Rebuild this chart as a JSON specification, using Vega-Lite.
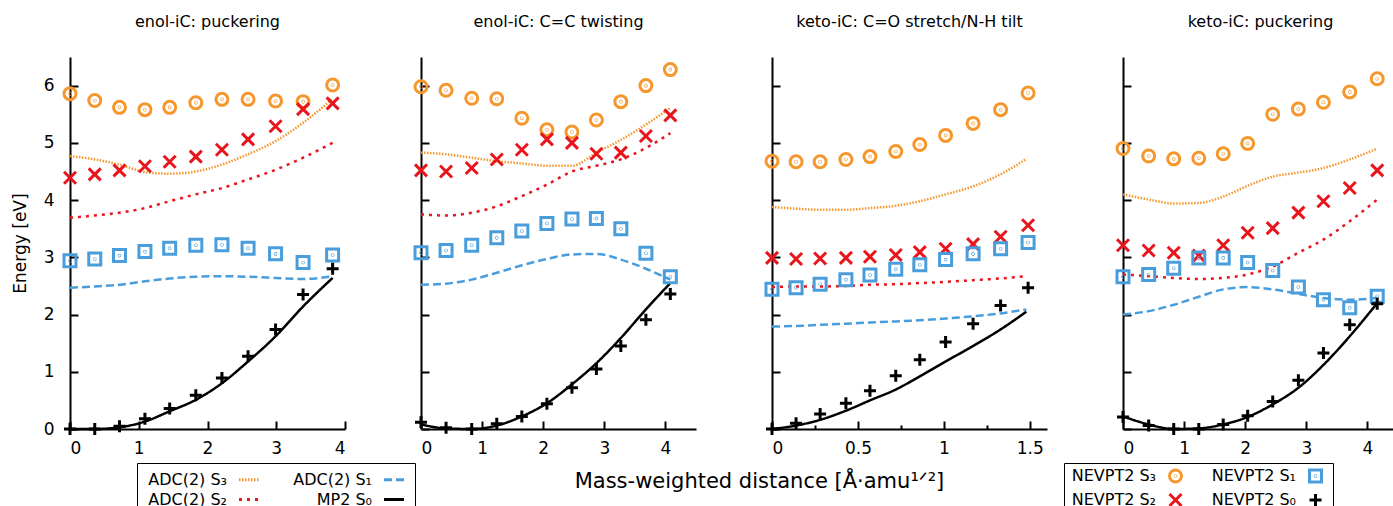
{
"$schema": "https://vega.github.io/schema/vega-lite/v6.json",
"padding": {"left": 11, "top": 14, "right": 5, "bottom": 5},
"spacing": 76,
"bounds": "flush",
"config": {
  "font": "DejaVu Sans",
  "view": {"stroke": null},
  "axis": {"domainColor": "black", "domainWidth": 2, "tickColor": "black", "tickWidth": 2, "labelColor": "black", "labelFontSize": 17, "grid": false, "titleFontSize": 17, "titleFontWeight": "normal", "titleColor": "black", "labelFont": "DejaVu Sans", "titleFont": "DejaVu Sans"},
  "title": {"fontSize": 16, "fontWeight": "normal", "color": "black", "offset": 27, "font": "DejaVu Sans"},
  "legend": {"labelFontSize": 16, "labelColor": "black", "labelFont": "DejaVu Sans"}
},
"datasets": {
"lines": [
{"p":1,"d":0,"e":4.77,"s":"ADC(2) S₃"},{"p":1,"d":0.36,"e":4.71,"s":"ADC(2) S₃"},{"p":1,"d":0.72,"e":4.62,"s":"ADC(2) S₃"},{"p":1,"d":1.09,"e":4.49,"s":"ADC(2) S₃"},{"p":1,"d":1.45,"e":4.46,"s":"ADC(2) S₃"},{"p":1,"d":1.83,"e":4.5,"s":"ADC(2) S₃"},{"p":1,"d":2.21,"e":4.62,"s":"ADC(2) S₃"},{"p":1,"d":2.59,"e":4.8,"s":"ADC(2) S₃"},{"p":1,"d":2.99,"e":5.03,"s":"ADC(2) S₃"},{"p":1,"d":3.39,"e":5.35,"s":"ADC(2) S₃"},{"p":1,"d":3.82,"e":5.77,"s":"ADC(2) S₃"},
{"p":1,"d":0,"e":3.69,"s":"ADC(2) S₂"},{"p":1,"d":0.36,"e":3.73,"s":"ADC(2) S₂"},{"p":1,"d":0.72,"e":3.78,"s":"ADC(2) S₂"},{"p":1,"d":1.09,"e":3.86,"s":"ADC(2) S₂"},{"p":1,"d":1.45,"e":3.98,"s":"ADC(2) S₂"},{"p":1,"d":1.83,"e":4.1,"s":"ADC(2) S₂"},{"p":1,"d":2.21,"e":4.21,"s":"ADC(2) S₂"},{"p":1,"d":2.59,"e":4.36,"s":"ADC(2) S₂"},{"p":1,"d":2.99,"e":4.53,"s":"ADC(2) S₂"},{"p":1,"d":3.39,"e":4.74,"s":"ADC(2) S₂"},{"p":1,"d":3.82,"e":5.0,"s":"ADC(2) S₂"},
{"p":1,"d":0,"e":2.47,"s":"ADC(2) S₁"},{"p":1,"d":0.36,"e":2.49,"s":"ADC(2) S₁"},{"p":1,"d":0.72,"e":2.52,"s":"ADC(2) S₁"},{"p":1,"d":1.09,"e":2.58,"s":"ADC(2) S₁"},{"p":1,"d":1.45,"e":2.63,"s":"ADC(2) S₁"},{"p":1,"d":1.83,"e":2.66,"s":"ADC(2) S₁"},{"p":1,"d":2.21,"e":2.67,"s":"ADC(2) S₁"},{"p":1,"d":2.59,"e":2.66,"s":"ADC(2) S₁"},{"p":1,"d":2.99,"e":2.64,"s":"ADC(2) S₁"},{"p":1,"d":3.39,"e":2.62,"s":"ADC(2) S₁"},{"p":1,"d":3.82,"e":2.67,"s":"ADC(2) S₁"},
{"p":1,"d":0,"e":0,"s":"MP2 S₀"},{"p":1,"d":0.36,"e":0,"s":"MP2 S₀"},{"p":1,"d":0.72,"e":0.03,"s":"MP2 S₀"},{"p":1,"d":1.09,"e":0.13,"s":"MP2 S₀"},{"p":1,"d":1.45,"e":0.31,"s":"MP2 S₀"},{"p":1,"d":1.83,"e":0.51,"s":"MP2 S₀"},{"p":1,"d":2.21,"e":0.8,"s":"MP2 S₀"},{"p":1,"d":2.59,"e":1.18,"s":"MP2 S₀"},{"p":1,"d":2.99,"e":1.62,"s":"MP2 S₀"},{"p":1,"d":3.39,"e":2.14,"s":"MP2 S₀"},{"p":1,"d":3.82,"e":2.64,"s":"MP2 S₀"},
{"p":2,"d":0,"e":4.83,"s":"ADC(2) S₃"},{"p":2,"d":0.41,"e":4.8,"s":"ADC(2) S₃"},{"p":2,"d":0.83,"e":4.74,"s":"ADC(2) S₃"},{"p":2,"d":1.24,"e":4.68,"s":"ADC(2) S₃"},{"p":2,"d":1.65,"e":4.64,"s":"ADC(2) S₃"},{"p":2,"d":2.06,"e":4.6,"s":"ADC(2) S₃"},{"p":2,"d":2.47,"e":4.6,"s":"ADC(2) S₃"},{"p":2,"d":2.87,"e":4.83,"s":"ADC(2) S₃"},{"p":2,"d":3.27,"e":5.05,"s":"ADC(2) S₃"},{"p":2,"d":3.68,"e":5.32,"s":"ADC(2) S₃"},{"p":2,"d":4.08,"e":5.61,"s":"ADC(2) S₃"},
{"p":2,"d":0,"e":3.75,"s":"ADC(2) S₂"},{"p":2,"d":0.41,"e":3.73,"s":"ADC(2) S₂"},{"p":2,"d":0.83,"e":3.78,"s":"ADC(2) S₂"},{"p":2,"d":1.24,"e":3.89,"s":"ADC(2) S₂"},{"p":2,"d":1.65,"e":4.07,"s":"ADC(2) S₂"},{"p":2,"d":2.06,"e":4.27,"s":"ADC(2) S₂"},{"p":2,"d":2.47,"e":4.5,"s":"ADC(2) S₂"},{"p":2,"d":2.87,"e":4.6,"s":"ADC(2) S₂"},{"p":2,"d":3.27,"e":4.71,"s":"ADC(2) S₂"},{"p":2,"d":3.68,"e":4.91,"s":"ADC(2) S₂"},{"p":2,"d":4.08,"e":5.17,"s":"ADC(2) S₂"},
{"p":2,"d":0,"e":2.52,"s":"ADC(2) S₁"},{"p":2,"d":0.41,"e":2.54,"s":"ADC(2) S₁"},{"p":2,"d":0.83,"e":2.61,"s":"ADC(2) S₁"},{"p":2,"d":1.24,"e":2.73,"s":"ADC(2) S₁"},{"p":2,"d":1.65,"e":2.86,"s":"ADC(2) S₁"},{"p":2,"d":2.06,"e":2.97,"s":"ADC(2) S₁"},{"p":2,"d":2.47,"e":3.05,"s":"ADC(2) S₁"},{"p":2,"d":2.87,"e":3.06,"s":"ADC(2) S₁"},{"p":2,"d":3.27,"e":2.96,"s":"ADC(2) S₁"},{"p":2,"d":3.68,"e":2.8,"s":"ADC(2) S₁"},{"p":2,"d":4.08,"e":2.61,"s":"ADC(2) S₁"},
{"p":2,"d":0,"e":0.08,"s":"MP2 S₀"},{"p":2,"d":0.41,"e":0.01,"s":"MP2 S₀"},{"p":2,"d":0.83,"e":0,"s":"MP2 S₀"},{"p":2,"d":1.24,"e":0.06,"s":"MP2 S₀"},{"p":2,"d":1.65,"e":0.22,"s":"MP2 S₀"},{"p":2,"d":2.06,"e":0.45,"s":"MP2 S₀"},{"p":2,"d":2.47,"e":0.78,"s":"MP2 S₀"},{"p":2,"d":2.87,"e":1.15,"s":"MP2 S₀"},{"p":2,"d":3.27,"e":1.59,"s":"MP2 S₀"},{"p":2,"d":3.68,"e":2.09,"s":"MP2 S₀"},{"p":2,"d":4.08,"e":2.55,"s":"MP2 S₀"},
{"p":3,"d":0,"e":3.88,"s":"ADC(2) S₃"},{"p":3,"d":0.14,"e":3.85,"s":"ADC(2) S₃"},{"p":3,"d":0.28,"e":3.83,"s":"ADC(2) S₃"},{"p":3,"d":0.43,"e":3.83,"s":"ADC(2) S₃"},{"p":3,"d":0.57,"e":3.86,"s":"ADC(2) S₃"},{"p":3,"d":0.72,"e":3.9,"s":"ADC(2) S₃"},{"p":3,"d":0.86,"e":3.98,"s":"ADC(2) S₃"},{"p":3,"d":1.01,"e":4.1,"s":"ADC(2) S₃"},{"p":3,"d":1.17,"e":4.24,"s":"ADC(2) S₃"},{"p":3,"d":1.33,"e":4.45,"s":"ADC(2) S₃"},{"p":3,"d":1.48,"e":4.72,"s":"ADC(2) S₃"},
{"p":3,"d":0,"e":2.48,"s":"ADC(2) S₂"},{"p":3,"d":0.14,"e":2.49,"s":"ADC(2) S₂"},{"p":3,"d":0.28,"e":2.49,"s":"ADC(2) S₂"},{"p":3,"d":0.43,"e":2.5,"s":"ADC(2) S₂"},{"p":3,"d":0.57,"e":2.52,"s":"ADC(2) S₂"},{"p":3,"d":0.72,"e":2.53,"s":"ADC(2) S₂"},{"p":3,"d":0.86,"e":2.55,"s":"ADC(2) S₂"},{"p":3,"d":1.01,"e":2.57,"s":"ADC(2) S₂"},{"p":3,"d":1.17,"e":2.6,"s":"ADC(2) S₂"},{"p":3,"d":1.33,"e":2.63,"s":"ADC(2) S₂"},{"p":3,"d":1.48,"e":2.67,"s":"ADC(2) S₂"},
{"p":3,"d":0,"e":1.79,"s":"ADC(2) S₁"},{"p":3,"d":0.14,"e":1.8,"s":"ADC(2) S₁"},{"p":3,"d":0.28,"e":1.82,"s":"ADC(2) S₁"},{"p":3,"d":0.43,"e":1.84,"s":"ADC(2) S₁"},{"p":3,"d":0.57,"e":1.86,"s":"ADC(2) S₁"},{"p":3,"d":0.72,"e":1.88,"s":"ADC(2) S₁"},{"p":3,"d":0.86,"e":1.9,"s":"ADC(2) S₁"},{"p":3,"d":1.01,"e":1.93,"s":"ADC(2) S₁"},{"p":3,"d":1.17,"e":1.97,"s":"ADC(2) S₁"},{"p":3,"d":1.33,"e":2.02,"s":"ADC(2) S₁"},{"p":3,"d":1.48,"e":2.09,"s":"ADC(2) S₁"},
{"p":3,"d":0,"e":0,"s":"MP2 S₀"},{"p":3,"d":0.14,"e":0.06,"s":"MP2 S₀"},{"p":3,"d":0.28,"e":0.16,"s":"MP2 S₀"},{"p":3,"d":0.43,"e":0.32,"s":"MP2 S₀"},{"p":3,"d":0.57,"e":0.5,"s":"MP2 S₀"},{"p":3,"d":0.72,"e":0.69,"s":"MP2 S₀"},{"p":3,"d":0.86,"e":0.92,"s":"MP2 S₀"},{"p":3,"d":1.01,"e":1.18,"s":"MP2 S₀"},{"p":3,"d":1.17,"e":1.45,"s":"MP2 S₀"},{"p":3,"d":1.33,"e":1.74,"s":"MP2 S₀"},{"p":3,"d":1.48,"e":2.05,"s":"MP2 S₀"},
{"p":4,"d":0,"e":4.1,"s":"ADC(2) S₃"},{"p":4,"d":0.42,"e":4.01,"s":"ADC(2) S₃"},{"p":4,"d":0.83,"e":3.94,"s":"ADC(2) S₃"},{"p":4,"d":1.24,"e":3.95,"s":"ADC(2) S₃"},{"p":4,"d":1.64,"e":4.06,"s":"ADC(2) S₃"},{"p":4,"d":2.04,"e":4.25,"s":"ADC(2) S₃"},{"p":4,"d":2.45,"e":4.41,"s":"ADC(2) S₃"},{"p":4,"d":2.87,"e":4.48,"s":"ADC(2) S₃"},{"p":4,"d":3.28,"e":4.56,"s":"ADC(2) S₃"},{"p":4,"d":3.71,"e":4.71,"s":"ADC(2) S₃"},{"p":4,"d":4.16,"e":4.9,"s":"ADC(2) S₃"},
{"p":4,"d":0,"e":2.7,"s":"ADC(2) S₂"},{"p":4,"d":0.42,"e":2.67,"s":"ADC(2) S₂"},{"p":4,"d":0.83,"e":2.64,"s":"ADC(2) S₂"},{"p":4,"d":1.24,"e":2.62,"s":"ADC(2) S₂"},{"p":4,"d":1.64,"e":2.64,"s":"ADC(2) S₂"},{"p":4,"d":2.04,"e":2.7,"s":"ADC(2) S₂"},{"p":4,"d":2.45,"e":2.84,"s":"ADC(2) S₂"},{"p":4,"d":2.87,"e":3.08,"s":"ADC(2) S₂"},{"p":4,"d":3.28,"e":3.31,"s":"ADC(2) S₂"},{"p":4,"d":3.71,"e":3.63,"s":"ADC(2) S₂"},{"p":4,"d":4.16,"e":4.01,"s":"ADC(2) S₂"},
{"p":4,"d":0,"e":2.0,"s":"ADC(2) S₁"},{"p":4,"d":0.42,"e":2.06,"s":"ADC(2) S₁"},{"p":4,"d":0.83,"e":2.17,"s":"ADC(2) S₁"},{"p":4,"d":1.24,"e":2.31,"s":"ADC(2) S₁"},{"p":4,"d":1.64,"e":2.44,"s":"ADC(2) S₁"},{"p":4,"d":2.04,"e":2.48,"s":"ADC(2) S₁"},{"p":4,"d":2.45,"e":2.44,"s":"ADC(2) S₁"},{"p":4,"d":2.87,"e":2.36,"s":"ADC(2) S₁"},{"p":4,"d":3.28,"e":2.29,"s":"ADC(2) S₁"},{"p":4,"d":3.71,"e":2.26,"s":"ADC(2) S₁"},{"p":4,"d":4.16,"e":2.29,"s":"ADC(2) S₁"},
{"p":4,"d":0,"e":0.22,"s":"MP2 S₀"},{"p":4,"d":0.42,"e":0.08,"s":"MP2 S₀"},{"p":4,"d":0.83,"e":0,"s":"MP2 S₀"},{"p":4,"d":1.24,"e":0.01,"s":"MP2 S₀"},{"p":4,"d":1.64,"e":0.08,"s":"MP2 S₀"},{"p":4,"d":2.04,"e":0.21,"s":"MP2 S₀"},{"p":4,"d":2.45,"e":0.43,"s":"MP2 S₀"},{"p":4,"d":2.87,"e":0.72,"s":"MP2 S₀"},{"p":4,"d":3.28,"e":1.12,"s":"MP2 S₀"},{"p":4,"d":3.71,"e":1.62,"s":"MP2 S₀"},{"p":4,"d":4.16,"e":2.2,"s":"MP2 S₀"}
],
"pts": [
{"p":1,"d":0,"e":5.86,"s":"NEVPT2 S₃"},{"p":1,"d":0.36,"e":5.74,"s":"NEVPT2 S₃"},{"p":1,"d":0.72,"e":5.62,"s":"NEVPT2 S₃"},{"p":1,"d":1.09,"e":5.58,"s":"NEVPT2 S₃"},{"p":1,"d":1.45,"e":5.62,"s":"NEVPT2 S₃"},{"p":1,"d":1.83,"e":5.7,"s":"NEVPT2 S₃"},{"p":1,"d":2.21,"e":5.76,"s":"NEVPT2 S₃"},{"p":1,"d":2.59,"e":5.76,"s":"NEVPT2 S₃"},{"p":1,"d":2.99,"e":5.73,"s":"NEVPT2 S₃"},{"p":1,"d":3.39,"e":5.72,"s":"NEVPT2 S₃"},{"p":1,"d":3.82,"e":6.01,"s":"NEVPT2 S₃"},
{"p":1,"d":0,"e":4.39,"s":"NEVPT2 S₂"},{"p":1,"d":0.36,"e":4.45,"s":"NEVPT2 S₂"},{"p":1,"d":0.72,"e":4.52,"s":"NEVPT2 S₂"},{"p":1,"d":1.09,"e":4.59,"s":"NEVPT2 S₂"},{"p":1,"d":1.45,"e":4.67,"s":"NEVPT2 S₂"},{"p":1,"d":1.83,"e":4.76,"s":"NEVPT2 S₂"},{"p":1,"d":2.21,"e":4.88,"s":"NEVPT2 S₂"},{"p":1,"d":2.59,"e":5.06,"s":"NEVPT2 S₂"},{"p":1,"d":2.99,"e":5.29,"s":"NEVPT2 S₂"},{"p":1,"d":3.39,"e":5.59,"s":"NEVPT2 S₂"},{"p":1,"d":3.82,"e":5.69,"s":"NEVPT2 S₂"},
{"p":1,"d":0,"e":2.94,"s":"NEVPT2 S₁"},{"p":1,"d":0.36,"e":2.97,"s":"NEVPT2 S₁"},{"p":1,"d":0.72,"e":3.03,"s":"NEVPT2 S₁"},{"p":1,"d":1.09,"e":3.1,"s":"NEVPT2 S₁"},{"p":1,"d":1.45,"e":3.16,"s":"NEVPT2 S₁"},{"p":1,"d":1.83,"e":3.21,"s":"NEVPT2 S₁"},{"p":1,"d":2.21,"e":3.22,"s":"NEVPT2 S₁"},{"p":1,"d":2.59,"e":3.16,"s":"NEVPT2 S₁"},{"p":1,"d":2.99,"e":3.06,"s":"NEVPT2 S₁"},{"p":1,"d":3.39,"e":2.91,"s":"NEVPT2 S₁"},{"p":1,"d":3.82,"e":3.04,"s":"NEVPT2 S₁"},
{"p":1,"d":0,"e":0,"s":"NEVPT2 S₀"},{"p":1,"d":0.36,"e":0,"s":"NEVPT2 S₀"},{"p":1,"d":0.72,"e":0.05,"s":"NEVPT2 S₀"},{"p":1,"d":1.09,"e":0.18,"s":"NEVPT2 S₀"},{"p":1,"d":1.45,"e":0.36,"s":"NEVPT2 S₀"},{"p":1,"d":1.83,"e":0.59,"s":"NEVPT2 S₀"},{"p":1,"d":2.21,"e":0.89,"s":"NEVPT2 S₀"},{"p":1,"d":2.59,"e":1.27,"s":"NEVPT2 S₀"},{"p":1,"d":2.99,"e":1.74,"s":"NEVPT2 S₀"},{"p":1,"d":3.39,"e":2.35,"s":"NEVPT2 S₀"},{"p":1,"d":3.82,"e":2.8,"s":"NEVPT2 S₀"},
{"p":2,"d":0,"e":5.98,"s":"NEVPT2 S₃"},{"p":2,"d":0.41,"e":5.92,"s":"NEVPT2 S₃"},{"p":2,"d":0.83,"e":5.78,"s":"NEVPT2 S₃"},{"p":2,"d":1.24,"e":5.77,"s":"NEVPT2 S₃"},{"p":2,"d":1.65,"e":5.43,"s":"NEVPT2 S₃"},{"p":2,"d":2.06,"e":5.23,"s":"NEVPT2 S₃"},{"p":2,"d":2.47,"e":5.19,"s":"NEVPT2 S₃"},{"p":2,"d":2.87,"e":5.4,"s":"NEVPT2 S₃"},{"p":2,"d":3.27,"e":5.72,"s":"NEVPT2 S₃"},{"p":2,"d":3.68,"e":6.0,"s":"NEVPT2 S₃"},{"p":2,"d":4.08,"e":6.28,"s":"NEVPT2 S₃"},
{"p":2,"d":0,"e":4.52,"s":"NEVPT2 S₂"},{"p":2,"d":0.41,"e":4.5,"s":"NEVPT2 S₂"},{"p":2,"d":0.83,"e":4.56,"s":"NEVPT2 S₂"},{"p":2,"d":1.24,"e":4.71,"s":"NEVPT2 S₂"},{"p":2,"d":1.65,"e":4.88,"s":"NEVPT2 S₂"},{"p":2,"d":2.06,"e":5.06,"s":"NEVPT2 S₂"},{"p":2,"d":2.47,"e":5.0,"s":"NEVPT2 S₂"},{"p":2,"d":2.87,"e":4.81,"s":"NEVPT2 S₂"},{"p":2,"d":3.27,"e":4.83,"s":"NEVPT2 S₂"},{"p":2,"d":3.68,"e":5.12,"s":"NEVPT2 S₂"},{"p":2,"d":4.08,"e":5.48,"s":"NEVPT2 S₂"},
{"p":2,"d":0,"e":3.08,"s":"NEVPT2 S₁"},{"p":2,"d":0.41,"e":3.12,"s":"NEVPT2 S₁"},{"p":2,"d":0.83,"e":3.21,"s":"NEVPT2 S₁"},{"p":2,"d":1.24,"e":3.34,"s":"NEVPT2 S₁"},{"p":2,"d":1.65,"e":3.46,"s":"NEVPT2 S₁"},{"p":2,"d":2.06,"e":3.59,"s":"NEVPT2 S₁"},{"p":2,"d":2.47,"e":3.67,"s":"NEVPT2 S₁"},{"p":2,"d":2.87,"e":3.68,"s":"NEVPT2 S₁"},{"p":2,"d":3.27,"e":3.5,"s":"NEVPT2 S₁"},{"p":2,"d":3.68,"e":3.07,"s":"NEVPT2 S₁"},{"p":2,"d":4.08,"e":2.66,"s":"NEVPT2 S₁"},
{"p":2,"d":0,"e":0.12,"s":"NEVPT2 S₀"},{"p":2,"d":0.41,"e":0.02,"s":"NEVPT2 S₀"},{"p":2,"d":0.83,"e":0,"s":"NEVPT2 S₀"},{"p":2,"d":1.24,"e":0.09,"s":"NEVPT2 S₀"},{"p":2,"d":1.65,"e":0.22,"s":"NEVPT2 S₀"},{"p":2,"d":2.06,"e":0.44,"s":"NEVPT2 S₀"},{"p":2,"d":2.47,"e":0.72,"s":"NEVPT2 S₀"},{"p":2,"d":2.87,"e":1.05,"s":"NEVPT2 S₀"},{"p":2,"d":3.27,"e":1.45,"s":"NEVPT2 S₀"},{"p":2,"d":3.68,"e":1.91,"s":"NEVPT2 S₀"},{"p":2,"d":4.08,"e":2.36,"s":"NEVPT2 S₀"},
{"p":3,"d":0,"e":4.68,"s":"NEVPT2 S₃"},{"p":3,"d":0.14,"e":4.67,"s":"NEVPT2 S₃"},{"p":3,"d":0.28,"e":4.67,"s":"NEVPT2 S₃"},{"p":3,"d":0.43,"e":4.71,"s":"NEVPT2 S₃"},{"p":3,"d":0.57,"e":4.76,"s":"NEVPT2 S₃"},{"p":3,"d":0.72,"e":4.85,"s":"NEVPT2 S₃"},{"p":3,"d":0.86,"e":4.97,"s":"NEVPT2 S₃"},{"p":3,"d":1.01,"e":5.13,"s":"NEVPT2 S₃"},{"p":3,"d":1.17,"e":5.34,"s":"NEVPT2 S₃"},{"p":3,"d":1.33,"e":5.58,"s":"NEVPT2 S₃"},{"p":3,"d":1.49,"e":5.87,"s":"NEVPT2 S₃"},
{"p":3,"d":0,"e":2.99,"s":"NEVPT2 S₂"},{"p":3,"d":0.14,"e":2.97,"s":"NEVPT2 S₂"},{"p":3,"d":0.28,"e":2.98,"s":"NEVPT2 S₂"},{"p":3,"d":0.43,"e":2.99,"s":"NEVPT2 S₂"},{"p":3,"d":0.57,"e":3.01,"s":"NEVPT2 S₂"},{"p":3,"d":0.72,"e":3.04,"s":"NEVPT2 S₂"},{"p":3,"d":0.86,"e":3.09,"s":"NEVPT2 S₂"},{"p":3,"d":1.01,"e":3.15,"s":"NEVPT2 S₂"},{"p":3,"d":1.17,"e":3.23,"s":"NEVPT2 S₂"},{"p":3,"d":1.33,"e":3.36,"s":"NEVPT2 S₂"},{"p":3,"d":1.49,"e":3.56,"s":"NEVPT2 S₂"},
{"p":3,"d":0,"e":2.44,"s":"NEVPT2 S₁"},{"p":3,"d":0.14,"e":2.47,"s":"NEVPT2 S₁"},{"p":3,"d":0.28,"e":2.53,"s":"NEVPT2 S₁"},{"p":3,"d":0.43,"e":2.61,"s":"NEVPT2 S₁"},{"p":3,"d":0.57,"e":2.69,"s":"NEVPT2 S₁"},{"p":3,"d":0.72,"e":2.79,"s":"NEVPT2 S₁"},{"p":3,"d":0.86,"e":2.87,"s":"NEVPT2 S₁"},{"p":3,"d":1.01,"e":2.96,"s":"NEVPT2 S₁"},{"p":3,"d":1.17,"e":3.06,"s":"NEVPT2 S₁"},{"p":3,"d":1.33,"e":3.15,"s":"NEVPT2 S₁"},{"p":3,"d":1.49,"e":3.26,"s":"NEVPT2 S₁"},
{"p":3,"d":0,"e":0,"s":"NEVPT2 S₀"},{"p":3,"d":0.14,"e":0.1,"s":"NEVPT2 S₀"},{"p":3,"d":0.28,"e":0.26,"s":"NEVPT2 S₀"},{"p":3,"d":0.43,"e":0.45,"s":"NEVPT2 S₀"},{"p":3,"d":0.57,"e":0.67,"s":"NEVPT2 S₀"},{"p":3,"d":0.72,"e":0.93,"s":"NEVPT2 S₀"},{"p":3,"d":0.86,"e":1.21,"s":"NEVPT2 S₀"},{"p":3,"d":1.01,"e":1.52,"s":"NEVPT2 S₀"},{"p":3,"d":1.17,"e":1.84,"s":"NEVPT2 S₀"},{"p":3,"d":1.33,"e":2.16,"s":"NEVPT2 S₀"},{"p":3,"d":1.49,"e":2.47,"s":"NEVPT2 S₀"},
{"p":4,"d":0,"e":4.9,"s":"NEVPT2 S₃"},{"p":4,"d":0.42,"e":4.77,"s":"NEVPT2 S₃"},{"p":4,"d":0.83,"e":4.72,"s":"NEVPT2 S₃"},{"p":4,"d":1.24,"e":4.73,"s":"NEVPT2 S₃"},{"p":4,"d":1.64,"e":4.81,"s":"NEVPT2 S₃"},{"p":4,"d":2.04,"e":4.99,"s":"NEVPT2 S₃"},{"p":4,"d":2.45,"e":5.5,"s":"NEVPT2 S₃"},{"p":4,"d":2.87,"e":5.59,"s":"NEVPT2 S₃"},{"p":4,"d":3.28,"e":5.71,"s":"NEVPT2 S₃"},{"p":4,"d":3.71,"e":5.89,"s":"NEVPT2 S₃"},{"p":4,"d":4.16,"e":6.12,"s":"NEVPT2 S₃"},
{"p":4,"d":0,"e":3.21,"s":"NEVPT2 S₂"},{"p":4,"d":0.42,"e":3.12,"s":"NEVPT2 S₂"},{"p":4,"d":0.83,"e":3.08,"s":"NEVPT2 S₂"},{"p":4,"d":1.24,"e":3.03,"s":"NEVPT2 S₂"},{"p":4,"d":1.64,"e":3.21,"s":"NEVPT2 S₂"},{"p":4,"d":2.04,"e":3.43,"s":"NEVPT2 S₂"},{"p":4,"d":2.45,"e":3.51,"s":"NEVPT2 S₂"},{"p":4,"d":2.87,"e":3.78,"s":"NEVPT2 S₂"},{"p":4,"d":3.28,"e":3.98,"s":"NEVPT2 S₂"},{"p":4,"d":3.71,"e":4.21,"s":"NEVPT2 S₂"},{"p":4,"d":4.16,"e":4.52,"s":"NEVPT2 S₂"},
{"p":4,"d":0,"e":2.66,"s":"NEVPT2 S₁"},{"p":4,"d":0.42,"e":2.7,"s":"NEVPT2 S₁"},{"p":4,"d":0.83,"e":2.81,"s":"NEVPT2 S₁"},{"p":4,"d":1.24,"e":2.99,"s":"NEVPT2 S₁"},{"p":4,"d":1.64,"e":2.99,"s":"NEVPT2 S₁"},{"p":4,"d":2.04,"e":2.91,"s":"NEVPT2 S₁"},{"p":4,"d":2.45,"e":2.77,"s":"NEVPT2 S₁"},{"p":4,"d":2.87,"e":2.48,"s":"NEVPT2 S₁"},{"p":4,"d":3.28,"e":2.26,"s":"NEVPT2 S₁"},{"p":4,"d":3.71,"e":2.12,"s":"NEVPT2 S₁"},{"p":4,"d":4.16,"e":2.32,"s":"NEVPT2 S₁"},
{"p":4,"d":0,"e":0.21,"s":"NEVPT2 S₀"},{"p":4,"d":0.42,"e":0.06,"s":"NEVPT2 S₀"},{"p":4,"d":0.83,"e":0,"s":"NEVPT2 S₀"},{"p":4,"d":1.24,"e":0,"s":"NEVPT2 S₀"},{"p":4,"d":1.64,"e":0.08,"s":"NEVPT2 S₀"},{"p":4,"d":2.04,"e":0.23,"s":"NEVPT2 S₀"},{"p":4,"d":2.45,"e":0.48,"s":"NEVPT2 S₀"},{"p":4,"d":2.87,"e":0.85,"s":"NEVPT2 S₀"},{"p":4,"d":3.28,"e":1.33,"s":"NEVPT2 S₀"},{"p":4,"d":3.71,"e":1.82,"s":"NEVPT2 S₀"},{"p":4,"d":4.16,"e":2.19,"s":"NEVPT2 S₀"}
]
},
"hconcat": [
{
 "width": 275, "height": 372,
 "title": "enol-iC: puckering",
 "layer": [
  {"data": {"name": "lines"}, "transform": [{"filter": "datum.p === 1"}],
   "mark": {"type": "line", "interpolate": "monotone", "strokeWidth": 2.5},
   "encoding": {
    "x": {"field": "d", "type": "quantitative", "scale": {"domain": [0, 4]}, "axis": {"values": [0,0.5,1,1.5,2,2.5,3,3.5,4], "format": "~g", "labelExpr": "datum.value % 1 === 0 ? datum.label : ''", "tickSize": {"condition": {"test": "datum.value % 1 === 0", "value": -8}, "value": -4}, "labelPadding": 19, "title": null}},
    "y": {"field": "e", "type": "quantitative", "scale": {"domain": [0, 6.5]}, "axis": {"values": [0,1,2,3,4,5,6], "format": "d", "tickSize": -8, "labelPadding": 24, "title": "Energy [eV]", "titlePadding": 14}},
    "stroke": {"field": "s", "type": "nominal", "scale": {"domain": ["ADC(2) S₃","ADC(2) S₂","ADC(2) S₁","MP2 S₀"], "range": ["#f5972c","#e8151d","#4a9ddb","#000000"]},
      "legend": {"orient": "none", "legendX": 67, "legendY": 406, "columns": 2, "title": null, "strokeColor": "black", "fillColor": "white", "padding": 5, "symbolSize": 400, "symbolStrokeWidth": 3, "symbolOffset": 95.5, "labelOffset": -33.5, "labelAlign": "right", "columnPadding": 22, "rowPadding": 0}},
    "strokeDash": {"field": "s", "type": "nominal", "scale": {"domain": ["ADC(2) S₃","ADC(2) S₂","ADC(2) S₁","MP2 S₀"], "range": [[1.5,1.5],[3,5],[8,4],[1,0]]},
      "legend": {"orient": "none", "legendX": 67, "legendY": 406, "columns": 2, "title": null, "strokeColor": "black", "fillColor": "white", "padding": 5, "symbolSize": 400, "symbolStrokeWidth": 3, "symbolOffset": 95.5, "labelOffset": -33.5, "labelAlign": "right", "columnPadding": 22, "rowPadding": 0}}
   }},
  {"data": {"name": "pts"}, "transform": [{"filter": "datum.p === 1"}],
   "mark": {"type": "point", "filled": false, "strokeWidth": 3, "size": 144, "opacity": 1},
   "encoding": {
    "x": {"field": "d", "type": "quantitative"},
    "y": {"field": "e", "type": "quantitative"},
    "color": {"field": "s", "type": "nominal", "scale": {"domain": ["NEVPT2 S₃","NEVPT2 S₂","NEVPT2 S₁","NEVPT2 S₀"], "range": ["#f5972c","#e8151d","#4a9ddb","#000000"]},
      "legend": {"orient": "none", "legendX": 994, "legendY": 406, "columns": 2, "title": null, "strokeColor": "black", "fillColor": "white", "padding": 5, "symbolStrokeWidth": 3, "symbolSize": 144, "symbolOffset": 98.5, "labelOffset": -27.5, "labelAlign": "right", "columnPadding": 21, "rowPadding": 0}},
    "shape": {"field": "s", "type": "nominal", "scale": {"domain": ["NEVPT2 S₃","NEVPT2 S₂","NEVPT2 S₁","NEVPT2 S₀"], "range": ["M1,0A1,1,0,1,1,-1,0A1,1,0,1,1,1,0ZM0.05,0A0.05,0.05,0,1,1,-0.05,0A0.05,0.05,0,1,1,0.05,0Z", "M-1,-1L1,1M-1,1L1,-1", "M-1,-1H1V1H-1ZM0.05,0A0.05,0.05,0,1,1,-0.05,0A0.05,0.05,0,1,1,0.05,0Z", "M-1,0H1M0,-1V1"]},
      "legend": {"orient": "none", "legendX": 994, "legendY": 406, "columns": 2, "title": null, "strokeColor": "black", "fillColor": "white", "padding": 5, "symbolStrokeWidth": 3, "symbolSize": 144, "symbolOffset": 98.5, "labelOffset": -27.5, "labelAlign": "right", "columnPadding": 21, "rowPadding": 0}}
   }}
 ]
},
{
 "width": 275, "height": 372,
 "title": "enol-iC: C=C twisting",
 "layer": [
  {"data": {"name": "lines"}, "transform": [{"filter": "datum.p === 2"}],
   "mark": {"type": "line", "interpolate": "monotone", "strokeWidth": 2.5},
   "encoding": {
    "x": {"field": "d", "type": "quantitative", "scale": {"domain": [0, 4.45]}, "axis": {"values": [0,0.5,1,1.5,2,2.5,3,3.5,4], "format": "~g", "labelExpr": "datum.value % 1 === 0 ? datum.label : ''", "tickSize": {"condition": {"test": "datum.value % 1 === 0", "value": -8}, "value": -4}, "labelPadding": 19, "title": "Mass-weighted distance [Å·amu¹ᐟ²]", "titleFontSize": 21, "titleX": 338, "titleY": 52, "titleBaseline": "middle", "titleAlign": "center"}},
    "y": {"field": "e", "type": "quantitative", "scale": {"domain": [0, 6.5]}, "axis": {"values": [0,1,2,3,4,5,6], "tickSize": -8, "labels": false, "title": null}},
    "stroke": {"field": "s", "type": "nominal", "scale": {"domain": ["ADC(2) S₃","ADC(2) S₂","ADC(2) S₁","MP2 S₀"], "range": ["#f5972c","#e8151d","#4a9ddb","#000000"]}},
    "strokeDash": {"field": "s", "type": "nominal", "scale": {"domain": ["ADC(2) S₃","ADC(2) S₂","ADC(2) S₁","MP2 S₀"], "range": [[1.5,1.5],[3,5],[8,4],[1,0]]}}
   }},
  {"data": {"name": "pts"}, "transform": [{"filter": "datum.p === 2"}],
   "mark": {"type": "point", "filled": false, "strokeWidth": 3, "size": 144, "opacity": 1},
   "encoding": {
    "x": {"field": "d", "type": "quantitative"},
    "y": {"field": "e", "type": "quantitative"},
    "color": {"field": "s", "type": "nominal", "scale": {"domain": ["NEVPT2 S₃","NEVPT2 S₂","NEVPT2 S₁","NEVPT2 S₀"], "range": ["#f5972c","#e8151d","#4a9ddb","#000000"]}},
    "shape": {"field": "s", "type": "nominal", "scale": {"domain": ["NEVPT2 S₃","NEVPT2 S₂","NEVPT2 S₁","NEVPT2 S₀"], "range": ["M1,0A1,1,0,1,1,-1,0A1,1,0,1,1,1,0ZM0.05,0A0.05,0.05,0,1,1,-0.05,0A0.05,0.05,0,1,1,0.05,0Z", "M-1,-1L1,1M-1,1L1,-1", "M-1,-1H1V1H-1ZM0.05,0A0.05,0.05,0,1,1,-0.05,0A0.05,0.05,0,1,1,0.05,0Z", "M-1,0H1M0,-1V1"]}}
   }}
 ]
},
{
 "width": 275, "height": 372,
 "title": "keto-iC: C=O stretch/N-H tilt",
 "layer": [
  {"data": {"name": "lines"}, "transform": [{"filter": "datum.p === 3"}],
   "mark": {"type": "line", "interpolate": "monotone", "strokeWidth": 2.5},
   "encoding": {
    "x": {"field": "d", "type": "quantitative", "scale": {"domain": [0, 1.6]}, "axis": {"values": [0,0.25,0.5,0.75,1,1.25,1.5], "format": "~g", "labelExpr": "datum.value % 0.5 === 0 ? datum.label : ''", "tickSize": {"condition": {"test": "datum.value % 0.5 === 0", "value": -8}, "value": -4}, "labelPadding": 19, "title": null}},
    "y": {"field": "e", "type": "quantitative", "scale": {"domain": [0, 6.5]}, "axis": {"values": [0,1,2,3,4,5,6], "tickSize": -8, "labels": false, "title": null}},
    "stroke": {"field": "s", "type": "nominal", "scale": {"domain": ["ADC(2) S₃","ADC(2) S₂","ADC(2) S₁","MP2 S₀"], "range": ["#f5972c","#e8151d","#4a9ddb","#000000"]}},
    "strokeDash": {"field": "s", "type": "nominal", "scale": {"domain": ["ADC(2) S₃","ADC(2) S₂","ADC(2) S₁","MP2 S₀"], "range": [[1.5,1.5],[3,5],[8,4],[1,0]]}}
   }},
  {"data": {"name": "pts"}, "transform": [{"filter": "datum.p === 3"}],
   "mark": {"type": "point", "filled": false, "strokeWidth": 3, "size": 144, "opacity": 1},
   "encoding": {
    "x": {"field": "d", "type": "quantitative"},
    "y": {"field": "e", "type": "quantitative"},
    "color": {"field": "s", "type": "nominal", "scale": {"domain": ["NEVPT2 S₃","NEVPT2 S₂","NEVPT2 S₁","NEVPT2 S₀"], "range": ["#f5972c","#e8151d","#4a9ddb","#000000"]}},
    "shape": {"field": "s", "type": "nominal", "scale": {"domain": ["NEVPT2 S₃","NEVPT2 S₂","NEVPT2 S₁","NEVPT2 S₀"], "range": ["M1,0A1,1,0,1,1,-1,0A1,1,0,1,1,1,0ZM0.05,0A0.05,0.05,0,1,1,-0.05,0A0.05,0.05,0,1,1,0.05,0Z", "M-1,-1L1,1M-1,1L1,-1", "M-1,-1H1V1H-1ZM0.05,0A0.05,0.05,0,1,1,-0.05,0A0.05,0.05,0,1,1,0.05,0Z", "M-1,0H1M0,-1V1"]}}
   }}
 ]
},
{
 "width": 275, "height": 372,
 "title": "keto-iC: puckering",
 "layer": [
  {"data": {"name": "lines"}, "transform": [{"filter": "datum.p === 4"}],
   "mark": {"type": "line", "interpolate": "monotone", "strokeWidth": 2.5},
   "encoding": {
    "x": {"field": "d", "type": "quantitative", "scale": {"domain": [0, 4.45]}, "axis": {"values": [0,0.5,1,1.5,2,2.5,3,3.5,4], "format": "~g", "labelExpr": "datum.value % 1 === 0 ? datum.label : ''", "tickSize": {"condition": {"test": "datum.value % 1 === 0", "value": -8}, "value": -4}, "labelPadding": 19, "title": null}},
    "y": {"field": "e", "type": "quantitative", "scale": {"domain": [0, 6.5]}, "axis": {"values": [0,1,2,3,4,5,6], "tickSize": -8, "labels": false, "title": null}},
    "stroke": {"field": "s", "type": "nominal", "scale": {"domain": ["ADC(2) S₃","ADC(2) S₂","ADC(2) S₁","MP2 S₀"], "range": ["#f5972c","#e8151d","#4a9ddb","#000000"]}},
    "strokeDash": {"field": "s", "type": "nominal", "scale": {"domain": ["ADC(2) S₃","ADC(2) S₂","ADC(2) S₁","MP2 S₀"], "range": [[1.5,1.5],[3,5],[8,4],[1,0]]}}
   }},
  {"data": {"name": "pts"}, "transform": [{"filter": "datum.p === 4"}],
   "mark": {"type": "point", "filled": false, "strokeWidth": 3, "size": 144, "opacity": 1},
   "encoding": {
    "x": {"field": "d", "type": "quantitative"},
    "y": {"field": "e", "type": "quantitative"},
    "color": {"field": "s", "type": "nominal", "scale": {"domain": ["NEVPT2 S₃","NEVPT2 S₂","NEVPT2 S₁","NEVPT2 S₀"], "range": ["#f5972c","#e8151d","#4a9ddb","#000000"]}},
    "shape": {"field": "s", "type": "nominal", "scale": {"domain": ["NEVPT2 S₃","NEVPT2 S₂","NEVPT2 S₁","NEVPT2 S₀"], "range": ["M1,0A1,1,0,1,1,-1,0A1,1,0,1,1,1,0ZM0.05,0A0.05,0.05,0,1,1,-0.05,0A0.05,0.05,0,1,1,0.05,0Z", "M-1,-1L1,1M-1,1L1,-1", "M-1,-1H1V1H-1ZM0.05,0A0.05,0.05,0,1,1,-0.05,0A0.05,0.05,0,1,1,0.05,0Z", "M-1,0H1M0,-1V1"]}}
   }}
 ]
}
]
}
